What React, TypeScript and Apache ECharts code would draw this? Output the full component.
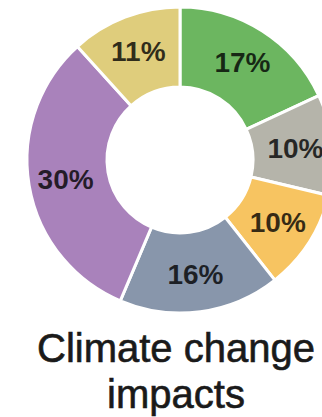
import React, { useEffect, useRef } from "react";
import * as echarts from "echarts";

const categories = ["A", "B", "C", "D", "E", "F"];
const values = [17, 10, 10, 16, 30, 11];
const colors = ["#6cb660", "#b5b4aa", "#f7c461", "#8896ab", "#a982bb", "#dfcd7c"];
const titleLines = ["Climate change", "impacts"];

export default function App() {
  const ref = useRef<HTMLDivElement>(null);
  useEffect(() => {
    document.body.style.margin = "0";
    const chart = echarts.init(ref.current!, undefined, { renderer: "svg" });
    chart.setOption({
      animation: false,
      series: [
        {
          type: "pie",
          center: [180, 160],
          radius: [73, 153],
          startAngle: 90,
          clockwise: true,
          silent: true,
          itemStyle: { borderColor: "#ffffff", borderWidth: 3 },
          label: {
            show: true,
            position: "inside",
            formatter: "{c}%",
            fontSize: 28,
            fontWeight: "bold",
            fontFamily: "Liberation Sans, Arial, sans-serif",
            color: "rgba(0,0,0,0.78)",
          },
          labelLine: { show: false },
          data: categories.map((c, i) => ({
            name: c,
            value: values[i],
            itemStyle: { color: colors[i] },
          })),
        },
      ],
      graphic: [
        {
          type: "text",
          x: 176,
          y: 325,
          style: {
            text: titleLines.join("\n"),
            font: "40px 'Liberation Sans', Arial, sans-serif",
            lineHeight: 46,
            fill: "#1a1a1a",
            stroke: "#1a1a1a",
            lineWidth: 0.6,
            textAlign: "center",
            textVerticalAlign: "top",
          },
        },
      ],
    });
    return () => chart.dispose();
  }, []);
  return <div ref={ref} style={{ width: 322, height: 417, overflow: "hidden" }} />;
}
